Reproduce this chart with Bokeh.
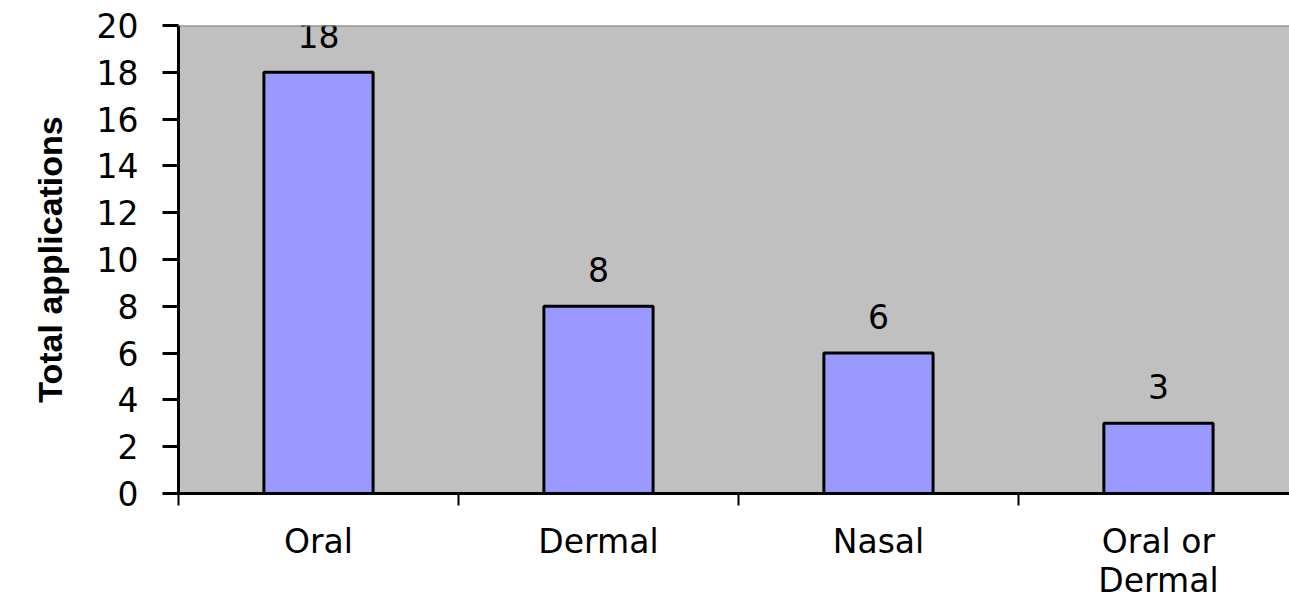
import numpy as np
from bokeh.plotting import figure
from bokeh.models import Range1d, FixedTicker, ColumnDataSource, Span, LinearAxis
from bokeh.core.properties import value
from bokeh.embed import file_html
from bokeh.resources import INLINE

categories = ["Oral", "Dermal", "Nasal", "Oral or\nDermal"]
values = [18, 8, 6, 3]
y_ticks = [0, 2, 4, 6, 8, 10, 12, 14, 16, 18, 20]
y_title = "Total applications"

pos = np.arange(len(categories)) + 0.5
src = ColumnDataSource(dict(x=pos, v=values, lab=[str(v) for v in values]))

p = figure(width=1289, height=602, output_backend="svg", toolbar_location=None,
           x_range=Range1d(0, 3.968), y_range=Range1d(0, 20),
           x_axis_type=None, min_border_left=178, min_border_right=0,
           min_border_top=25, min_border_bottom=0)
p.background_fill_color = "#C0C0C0"
p.border_fill_color = "white"
p.outline_line_color = None
p.grid.visible = False

p.vbar(x="x", top="v", width=0.39, bottom=0, source=src,
       fill_color="#9999FF", line_color="black", line_width=3)
p.text(x="x", y="v", text="lab", source=src, y_offset=-37,
       text_align="center", text_baseline="middle",
       text_font=value("DejaVu Sans"), text_font_size="33px", text_color="black")

p.add_layout(Span(location=20, dimension="width", line_color="#808080", line_width=2))

xa = LinearAxis(ticker=FixedTicker(ticks=list(pos), minor_ticks=list(range(len(categories) + 1))))
xa.major_label_overrides = {float(x): c for x, c in zip(pos, categories)}
xa.major_tick_out = 0
xa.major_tick_in = 0
xa.minor_tick_out = 12
xa.minor_tick_in = 0
xa.minor_tick_line_width = 2
xa.minor_tick_line_color = "black"
xa.axis_line_width = 3
xa.axis_line_color = "black"
xa.major_label_standoff = 16
xa.major_label_text_font = "DejaVu Sans"
xa.major_label_text_font_size = "33px"
xa.major_label_text_line_height = 1.0
xa.major_label_text_color = "black"
p.add_layout(xa, "below")

ya = p.yaxis[0]
ya.ticker = FixedTicker(ticks=y_ticks)
ya.major_tick_out = 16
ya.major_tick_in = 0
ya.major_tick_line_width = 3
ya.minor_tick_out = 0
ya.minor_tick_in = 0
ya.axis_line_width = 3
ya.axis_line_color = "black"
ya.major_label_standoff = 24
ya.major_label_text_font = "DejaVu Sans"
ya.major_label_text_font_size = "33px"
ya.major_label_text_color = "black"
ya.axis_label = y_title
ya.axis_label_text_font = "Liberation Sans"
ya.axis_label_text_font_style = "bold"
ya.axis_label_text_font_size = "34px"
ya.axis_label_text_color = "black"
ya.axis_label_standoff = 25

open("out.html", "w").write(file_html(p, INLINE))
